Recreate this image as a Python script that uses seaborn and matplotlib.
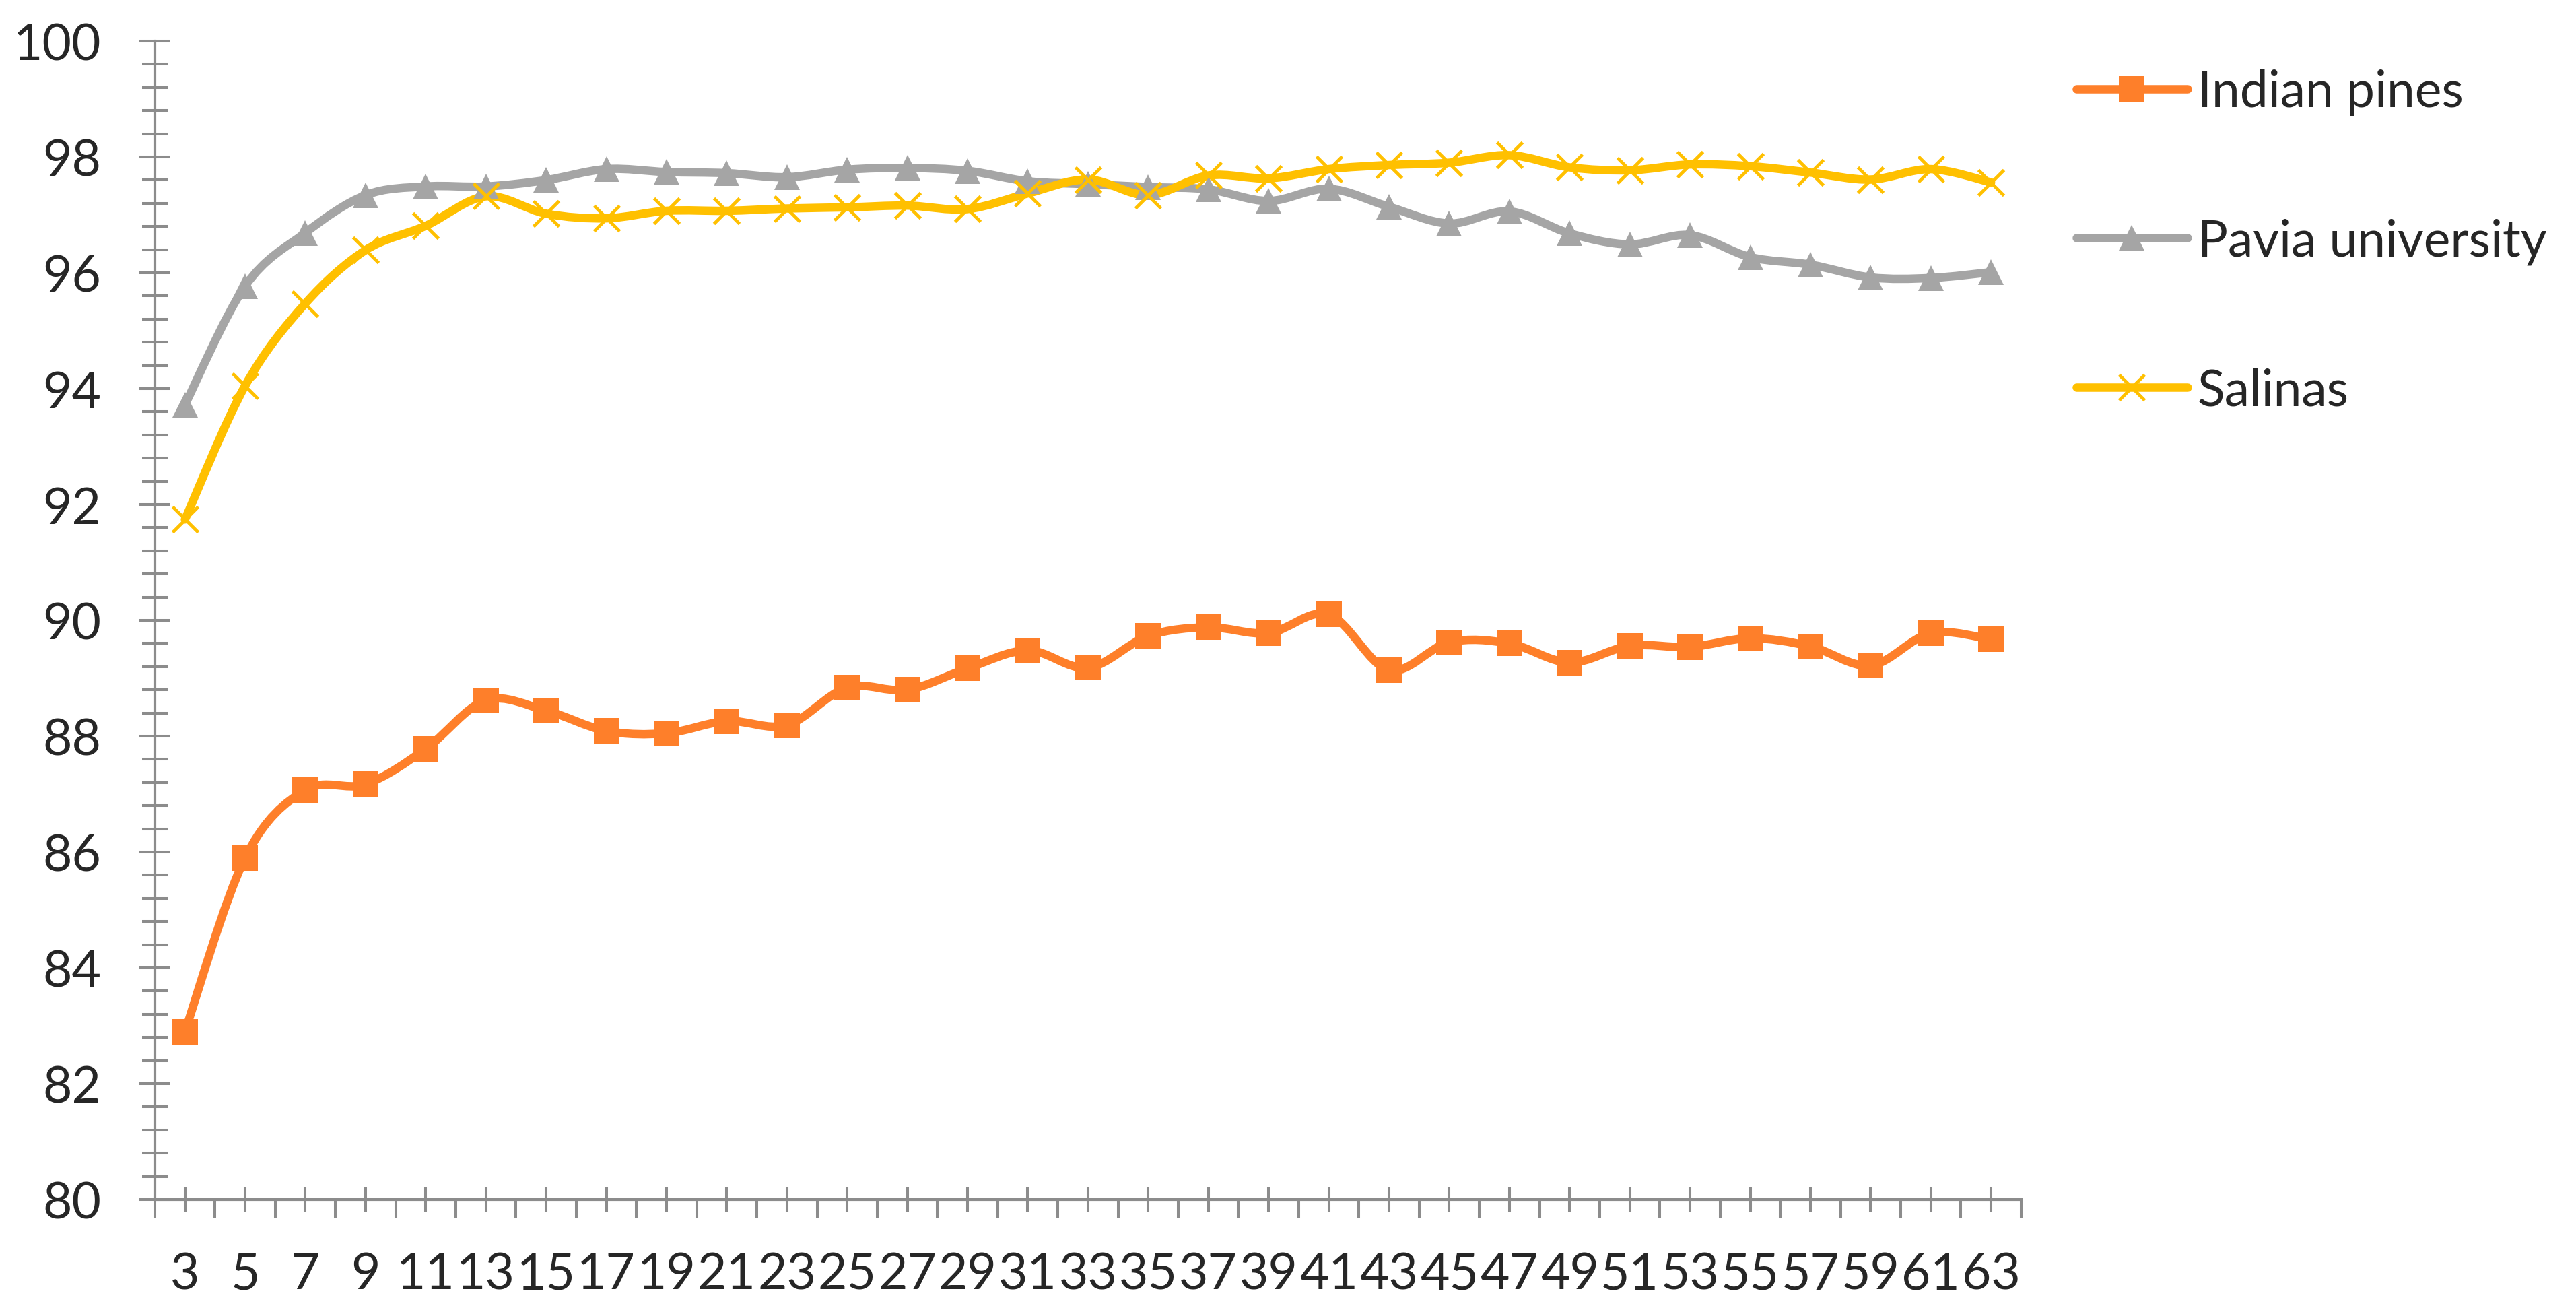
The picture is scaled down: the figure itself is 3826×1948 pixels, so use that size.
import numpy as np
import pandas as pd
import seaborn as sns
import matplotlib.pyplot as plt
from matplotlib.path import Path
from matplotlib.patches import PathPatch
from matplotlib.lines import Line2D
from matplotlib.ticker import MultipleLocator, FixedLocator

# window sizes on the x axis
window = [3, 5, 7, 9, 11, 13, 15, 17, 19, 21, 23, 25, 27, 29, 31, 33,
          35, 37, 39, 41, 43, 45, 47, 49, 51, 53, 55, 57, 59, 61, 63]

indian_pines = [82.90, 85.90, 87.07, 87.17, 87.78, 88.62, 88.44, 88.09, 88.05,
                88.26, 88.19, 88.84, 88.80, 89.17, 89.48, 89.18, 89.73, 89.88,
                89.78, 90.10, 89.14, 89.62, 89.60, 89.27, 89.56, 89.54, 89.69,
                89.55, 89.22, 89.78, 89.67]
pavia_university = [93.72, 95.77, 96.69, 97.34, 97.49, 97.49, 97.60, 97.79, 97.74,
                    97.72, 97.65, 97.78, 97.81, 97.76, 97.58, 97.53, 97.48, 97.44,
                    97.24, 97.45, 97.14, 96.85, 97.06, 96.68, 96.49, 96.65, 96.27,
                    96.14, 95.92, 95.91, 96.01]
salinas = [91.74, 94.05, 95.47, 96.39, 96.81, 97.32, 97.02, 96.94, 97.07,
           97.07, 97.11, 97.13, 97.16, 97.10, 97.37, 97.61, 97.34, 97.68,
           97.63, 97.79, 97.86, 97.90, 98.03, 97.82, 97.77, 97.87, 97.84,
           97.73, 97.61, 97.79, 97.56]

series = [
    ('Indian pines', indian_pines, '#FE7F2A', 's'),
    ('Pavia university', pavia_university, '#A5A5A5', '^'),
    ('Salinas', salinas, '#FFC000', 'x'),
]

sns.set_style('white')
plt.rcParams['font.family'] = ['Lato', 'DejaVu Sans']

fig = plt.figure(figsize=(38.26, 19.49), dpi=100)
ax = fig.add_axes([0.0601, 0.0857, 0.7245, 0.8825])

pos = np.arange(len(window))
lw = 9
msize = 27


def smooth_path(xs, ys):
    # Catmull-Rom style bezier through the points (like a smoothed Excel line)
    pts = np.column_stack([xs, ys])
    n = len(pts)
    verts = [pts[0]]
    codes = [Path.MOVETO]
    for i in range(n - 1):
        p0 = pts[max(i - 1, 0)]
        p1 = pts[i]
        p2 = pts[i + 1]
        p3 = pts[min(i + 2, n - 1)]
        c1 = p1 + (p2 - p0) / 6
        c2 = p2 - (p3 - p1) / 6
        verts += [c1, c2, p2]
        codes += [Path.CURVE4] * 3
    return Path(verts, codes)


handles = []
for name, vals, color, mk in series:
    ax.add_patch(PathPatch(smooth_path(pos, vals), facecolor='none',
                           edgecolor=color, lw=lw, capstyle='round',
                           joinstyle='round', zorder=2))
    df = pd.DataFrame({'pos': pos, 'value': vals})
    mew = 3.5 if mk == 'x' else 0
    sns.lineplot(data=df, x='pos', y='value', ax=ax, color=color,
                 linestyle='', marker=mk, markersize=msize,
                 markeredgewidth=mew, markeredgecolor=color,
                 markerfacecolor=color, zorder=3)
    handles.append(Line2D([0], [0], color=color, lw=lw, marker=mk,
                          markersize=msize, markeredgewidth=mew,
                          markeredgecolor=color, markerfacecolor=color,
                          solid_capstyle='round'))

ax.set_xlim(-0.5, len(window) - 0.5)
ax.set_ylim(80, 100)
ax.set_xlabel('')
ax.set_ylabel('')

ax.set_xticks(pos)
ax.set_xticklabels([str(w) for w in window])
ax.xaxis.set_minor_locator(FixedLocator(np.arange(-0.5, len(window), 1.0)))
ax.set_yticks(np.arange(80, 101, 2))
ax.yaxis.set_minor_locator(MultipleLocator(0.4))

axis_grey = '#8C8C8C'
for side in ['top', 'right']:
    ax.spines[side].set_visible(False)
for side in ['left', 'bottom']:
    ax.spines[side].set_color(axis_grey)
    ax.spines[side].set_linewidth(3)

ax.tick_params(axis='y', which='major', direction='inout', length=33, width=2.9,
               color=axis_grey, labelsize=54, pad=41, left=True)
ax.tick_params(axis='y', which='minor', direction='inout', length=28, width=2.9,
               color=axis_grey, left=True)
ax.tick_params(axis='x', which='major', direction='inout', length=28, width=2.9,
               color=axis_grey, labelsize=54, pad=41, bottom=True)
ax.tick_params(axis='x', which='minor', direction='out', length=19.5, width=2.9,
               color=axis_grey, bottom=True)

ax.legend(handles, [s[0] for s in series], loc='upper left',
          bbox_to_anchor=(0.806, 0.947), bbox_transform=fig.transFigure,
          frameon=False, fontsize=54, handlelength=2.2, handletextpad=0.2,
          labelspacing=2.03, borderaxespad=0, borderpad=0)

fig.savefig('out.png', dpi=100, facecolor='white')
